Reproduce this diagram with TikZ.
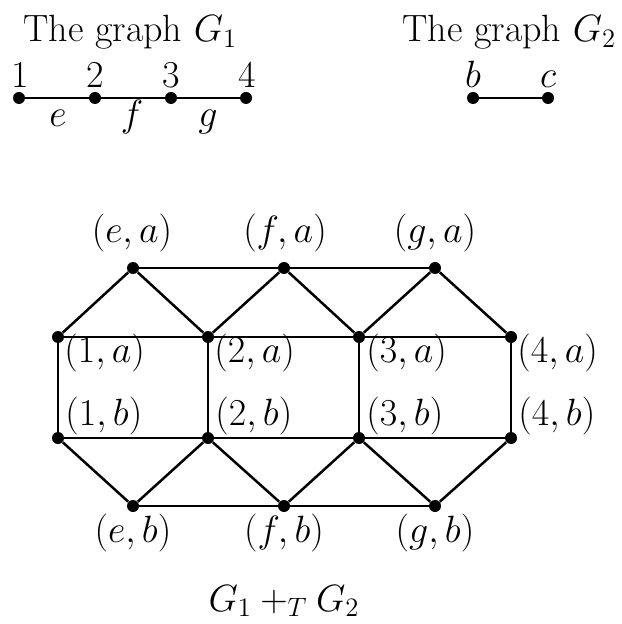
\RequirePackage{fix-cm}
\documentclass[tikz,border=0pt]{standalone}
\newcommand{\lblfont}{\fontsize{19}{23}\selectfont}
\begin{document}
\begin{tikzpicture}[x=0.5pt,y=-0.5pt,
  dot/.style={circle,fill=black,inner sep=0pt,minimum size=6pt},
  edge/.style={line width=1.25pt},
  lbl/.style={font=\lblfont,inner sep=0pt}]
\useasboundingbox (0,0) rectangle (621,624);
% titles
\node[lbl,anchor=base west] (t1) at (23,42) {The graph $G_1$};
\node[lbl,anchor=base west] (t2) at (402,42) {The graph $G_2$};
% G1
\node[dot] (n1) at (19,98) {};
\node[dot] (n2) at (95,98) {};
\node[dot] (n3) at (171,98) {};
\node[dot] (n4) at (246,98) {};
\node[lbl,anchor=base] (l1) at (20,88) {1};
\node[lbl,anchor=base] (l2) at (95,88) {2};
\node[lbl,anchor=base] (l3) at (171,88) {3};
\node[lbl,anchor=base] (l4) at (247,88) {4};
\node[lbl,anchor=base] (le) at (58,127) {$e$};
\node[lbl,anchor=base] (lf) at (132,127) {$f$};
\node[lbl,anchor=base] (lg) at (208,127) {$g$};
\draw[edge] (n1) -- (n2) -- (n3) -- (n4);
% G2
\node[dot] (gb) at (473,98) {};
\node[dot] (gc) at (548,98) {};
\node[lbl,anchor=base] (lb) at (473,88) {$b$};
\node[lbl,anchor=base] (lc) at (548,88) {$c$};
\draw[edge] (gb) -- (gc);
% product
\node[dot] (ea) at (133,268) {};
\node[dot] (fa) at (284,268) {};
\node[dot] (ga) at (435,268) {};
\node[dot] (a1) at (58,337) {};
\node[dot] (a2) at (208,337) {};
\node[dot] (a3) at (359,337) {};
\node[dot] (a4) at (511,337) {};
\node[dot] (b1) at (58,438) {};
\node[dot] (b2) at (208,438) {};
\node[dot] (b3) at (359,438) {};
\node[dot] (b4) at (511,438) {};
\node[dot] (eb) at (133,506) {};
\node[dot] (fb) at (284,506) {};
\node[dot] (gbb) at (435,506) {};
\draw[edge] (ea) -- (fa) -- (ga);
\draw[edge] (a1) -- (a2) -- (a3) -- (a4);
\draw[edge] (b1) -- (b2) -- (b3) -- (b4);
\draw[edge] (eb) -- (fb) -- (gbb);
\draw[edge] (a1) -- (b1);
\draw[edge] (a2) -- (b2);
\draw[edge] (a3) -- (b3);
\draw[edge] (a4) -- (b4);
\draw[edge] (a1) -- (ea) -- (a2) -- (fa) -- (a3) -- (ga) -- (a4);
\draw[edge] (b1) -- (eb) -- (b2) -- (fb) -- (b3) -- (gbb) -- (b4);
% product labels
\node[lbl,anchor=base] (lea) at (132,243) {$(e,a)$};
\node[lbl,anchor=base] (lfa) at (285,243) {$(f,a)$};
\node[lbl,anchor=base] (lga) at (435,243) {$(g,a)$};
\node[lbl,anchor=base west] (la1) at (64,362) {$(1,a)$};
\node[lbl,anchor=base west] (la2) at (214,362) {$(2,a)$};
\node[lbl,anchor=base west] (la3) at (366,362) {$(3,a)$};
\node[lbl,anchor=base west] (la4) at (517,362) {$(4,a)$};
\node[lbl,anchor=base west] (lb1) at (65,425) {$(1,b)$};
\node[lbl,anchor=base west] (lb2) at (215,425) {$(2,b)$};
\node[lbl,anchor=base west] (lb3) at (366,425) {$(3,b)$};
\node[lbl,anchor=base west] (lb4) at (518,425) {$(4,b)$};
\node[lbl,anchor=base] (leb) at (133,542) {$(e,b)$};
\node[lbl,anchor=base] (lfb) at (284,542) {$(f,b)$};
\node[lbl,anchor=base] (lgb) at (435,542) {$(g,b)$};
\node[lbl,anchor=base] (cap) at (284,611) {$G_1+_T G_2$};
\end{tikzpicture}
\end{document}
